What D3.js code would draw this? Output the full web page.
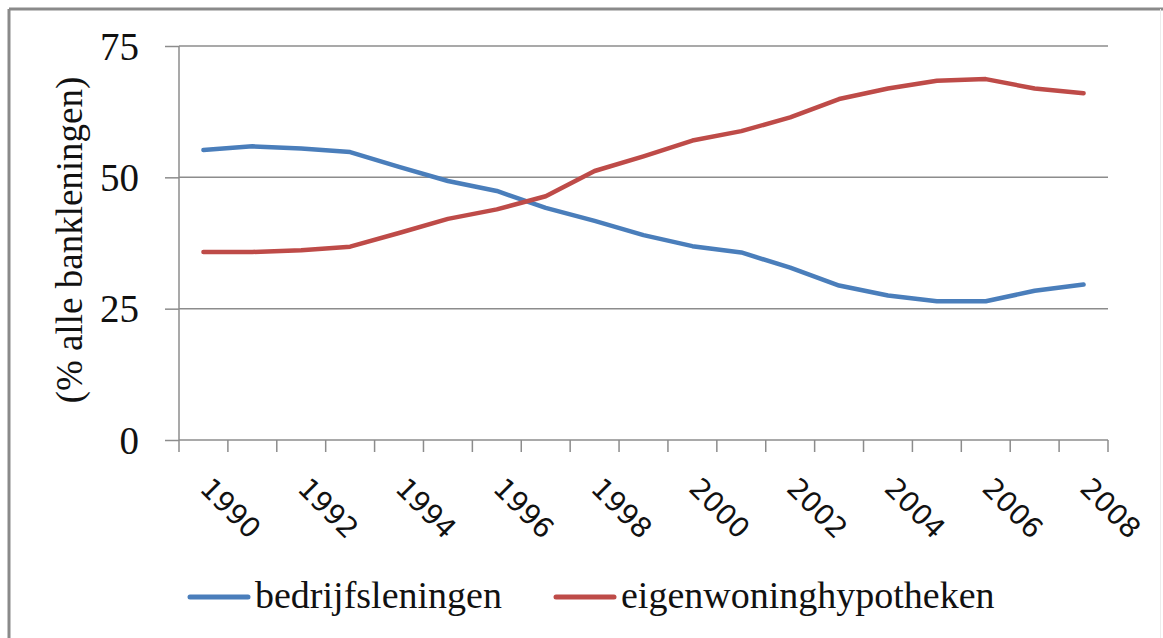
<!DOCTYPE html>
<html>
<head>
<meta charset="utf-8">
<script src="https://cdn.jsdelivr.net/npm/d3@7"></script>
<style>
  body { margin: 0; background: #fff; }
  svg { display: block; }
</style>
</head>
<body>
<svg width="1163" height="638"></svg>
<script>
var years = ["1990", "1991", "1992", "1993", "1994", "1995", "1996", "1997", "1998", "1999",
    "2000", "2001", "2002", "2003", "2004", "2005", "2006", "2007", "2008"];
var labelYears = ["1990", "1992", "1994", "1996", "1998", "2000", "2002", "2004", "2006", "2008"];
var bedrijfsleningen = [55.2, 55.9, 55.5, 54.8, 52.0, 49.3, 47.4, 44.2, 41.7, 39.0,
    36.9, 35.7, 32.8, 29.4, 27.5, 26.4, 26.4, 28.4, 29.6];
var eigenwoning = [35.8, 35.8, 36.1, 36.8, 39.4, 42.1, 43.9, 46.4, 51.2, 54.0,
    57.0, 58.8, 61.4, 64.9, 66.9, 68.4, 68.7, 66.9, 66.0];
var yTicks = [0, 25, 50, 75];
var seriesNames = ["bedrijfsleningen", "eigenwoninghypotheken"];
var colors = ["#4a7ebb", "#be4b48"];

var svg = d3.select('svg');
var gray = '#8c8c8c';

// outer frame
svg.append('line').attr('x1', 9).attr('y1', 9).attr('x2', 1163).attr('y2', 9)
    .attr('stroke', '#8a8a8a').attr('stroke-width', 3);
svg.append('line').attr('x1', 9).attr('y1', 9).attr('x2', 9).attr('y2', 638)
    .attr('stroke', '#8a8a8a').attr('stroke-width', 3);
svg.append('line').attr('x1', 1160.5).attr('y1', 9).attr('x2', 1160.5).attr('y2', 638)
    .attr('stroke', '#ececec').attr('stroke-width', 1);

var x = d3.scaleBand()
    .domain(years)
    .range([179, 1108]);

var y = d3.scaleLinear()
    .domain([0, 75])
    .range([440, 46]);

// gridlines + y axis
var yAxis = svg.append('g')
    .attr('transform', 'translate(179,0)')
    .call(d3.axisLeft(y).tickValues(yTicks).tickSize(14).tickPadding(26));
yAxis.select('.domain').remove();
yAxis.selectAll('.tick line').attr('stroke', gray).attr('stroke-width', 1.5);
yAxis.selectAll('.tick text')
    .attr('fill', '#111')
    .style('font-family', '"Liberation Serif", "DejaVu Serif", serif')
    .style('font-size', '39px')
    .attr('dy', '0.34em');

svg.append('g')
    .selectAll('line')
    .data(yTicks.filter(function (d) { return d > 0; }))
    .enter()
    .append('line')
    .attr('x1', 179).attr('x2', 1108)
    .attr('y1', function (d) { return y(d); })
    .attr('y2', function (d) { return y(d); })
    .attr('stroke', gray).attr('stroke-width', 1.5);

svg.append('line')
    .attr('x1', 179).attr('x2', 179)
    .attr('y1', y(75)).attr('y2', y(0))
    .attr('stroke', gray).attr('stroke-width', 1.5);

// x axis
svg.append('line')
    .attr('x1', 179).attr('x2', 1108)
    .attr('y1', y(0)).attr('y2', y(0))
    .attr('stroke', gray).attr('stroke-width', 1.5);

var boundaries = years.map(function (d) { return x(d); }).concat([x.range()[1]]);
svg.append('g')
    .selectAll('line')
    .data(boundaries)
    .enter()
    .append('line')
    .attr('x1', function (d) { return d; })
    .attr('x2', function (d) { return d; })
    .attr('y1', y(0)).attr('y2', y(0) + 12)
    .attr('stroke', gray).attr('stroke-width', 1.5);

svg.append('g')
    .selectAll('text')
    .data(labelYears)
    .enter()
    .append('text')
    .attr('transform', function (d) {
        return 'translate(' + (x(d) + x.bandwidth() / 2 - 5) + ',' + 490 + ') rotate(45)';
    })
    .attr('fill', '#111')
    .style('font-family', '"DejaVu Sans", Verdana, sans-serif')
    .style('font-size', '28px')
    .text(function (d) { return d; });

// y axis title
svg.append('text')
    .attr('transform', 'translate(82,240) rotate(-90)')
    .attr('text-anchor', 'middle')
    .attr('fill', '#111')
    .style('font-family', '"Liberation Serif", "DejaVu Serif", serif')
    .style('font-size', '37px')
    .text('(% alle bankleningen)');

// lines
var line = d3.line()
    .x(function (d, i) { return x(years[i]) + x.bandwidth() / 2; })
    .y(function (d) { return y(d); });

[bedrijfsleningen, eigenwoning].forEach(function (values, i) {
    svg.append('path')
        .datum(values)
        .attr('d', line)
        .attr('fill', 'none')
        .attr('stroke', colors[i])
        .attr('stroke-width', 4.5)
        .attr('stroke-linejoin', 'round')
        .attr('stroke-linecap', 'round');
});

// legend
var legendX = [190, 556];
var legend = svg.append('g')
    .selectAll('g')
    .data(seriesNames)
    .enter()
    .append('g')
    .attr('transform', function (d, i) { return 'translate(' + legendX[i] + ',597)'; });

legend.append('line')
    .attr('x1', 0).attr('x2', 58)
    .attr('stroke', function (d, i) { return colors[i]; })
    .attr('stroke-width', 5)
    .attr('stroke-linecap', 'round');

legend.append('text')
    .attr('x', 65)
    .attr('y', 11)
    .attr('fill', '#111')
    .style('font-family', '"Liberation Serif", "DejaVu Serif", serif')
    .style('font-size', '38px')
    .text(function (d) { return d; });
</script>
</body>
</html>
